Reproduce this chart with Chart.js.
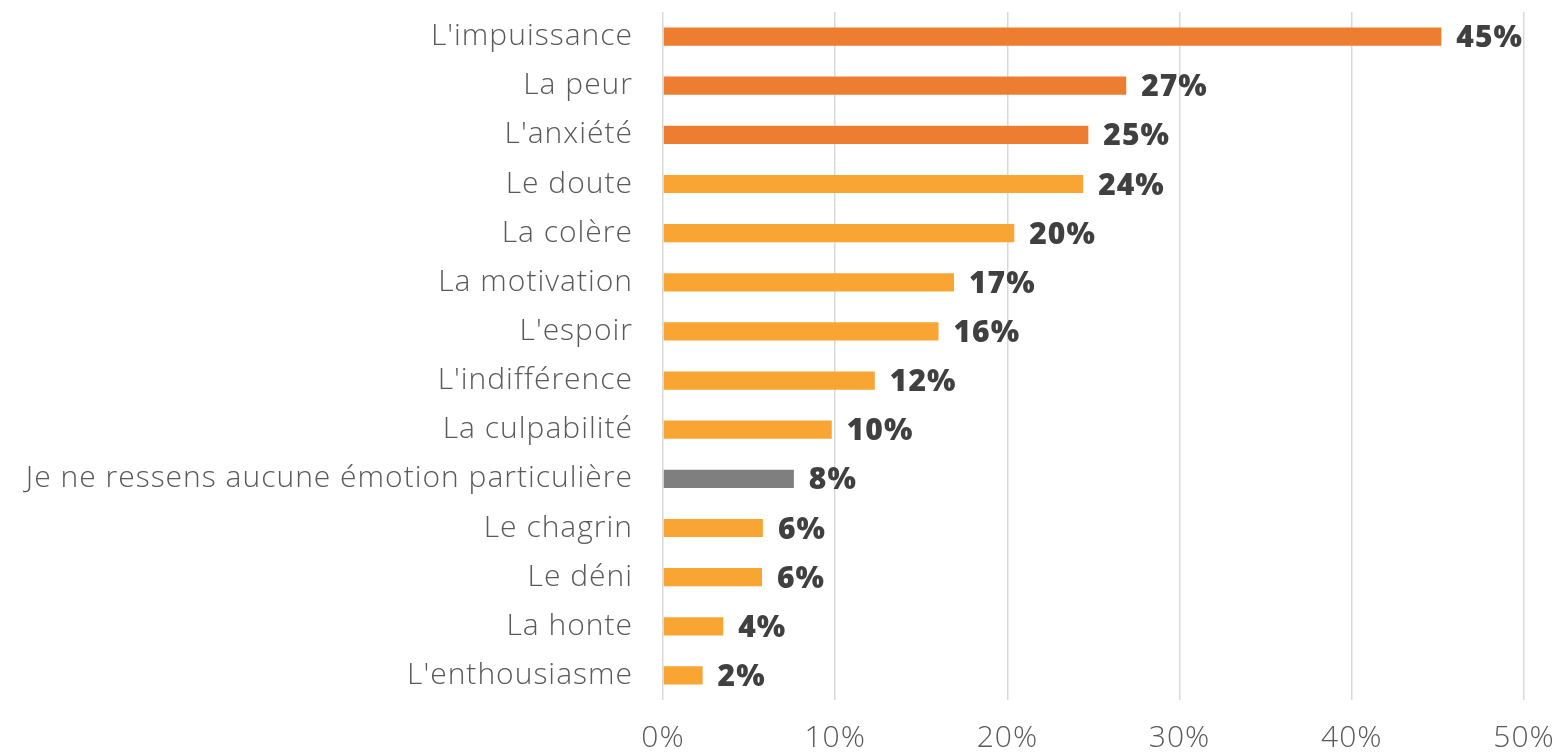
<!DOCTYPE html>
<html>
<head>
<meta charset="utf-8">
<script src="https://cdn.jsdelivr.net/npm/chart.js@4"></script>
<style>
  html, body { margin: 0; padding: 0; background: #fff; }
  #wrap { width: 1562px; height: 756px; }
</style>
</head>
<body>
<div id="wrap"><canvas id="graphe"></canvas></div>
<script>
// émotions ressenties, valeurs (en %)
const categories = ["L'impuissance", "La peur", "L'anxiété", "Le doute", "La colère", "La motivation",
  "L'espoir", "L'indifférence", "La culpabilité", "Je ne ressens aucune émotion particulière",
  "Le chagrin", "Le déni", "La honte", "L'enthousiasme"];
const valeurs = [45.2, 26.9, 24.7, 24.4, 20.4, 16.9, 16.0, 12.3, 9.8, 7.6, 5.8, 5.75, 3.5, 2.3];
const etiquettes = ["45%", "27%", "25%", "24%", "20%", "17%", "16%", "12%", "10%", "8%", "6%", "6%", "4%", "2%"];
const groupes = ["fort", "fort", "fort", "moyen", "moyen", "moyen", "moyen", "moyen", "moyen", "aucun",
  "moyen", "moyen", "moyen", "moyen"];
const ticksX = [0, 10, 20, 30, 40, 50];

const couleurs = { fort: "#ED7D31", moyen: "#F9A533", aucun: "#7F7F7F" };
const police = "'Open Sans', Lato, sans-serif";

// un peu d'espacement entre les lettres, comme dans l'original
const espacement = {
  id: 'espacement',
  beforeLayout(chart) { chart.ctx.letterSpacing = '1px'; },
  beforeDraw(chart) { chart.ctx.letterSpacing = '1px'; }
};

// petit plugin maison pour écrire les valeurs au bout des barres
const valeursPlugin = {
  id: 'valeursPlugin',
  afterDatasetsDraw(chart) {
    const ctx = chart.ctx;
    const meta = chart.getDatasetMeta(0);
    ctx.save();
    ctx.font = "800 30px " + police;
    ctx.fillStyle = "#404040";
    ctx.textBaseline = "middle";
    ctx.textAlign = "left";
    meta.data.forEach((bar, i) => {
      ctx.fillText(etiquettes[i], bar.x + 15, bar.y + 2);
    });
    ctx.restore();
  }
};

new Chart(document.getElementById("graphe"), {
  type: 'bar',
  data: {
    labels: categories,
    datasets: [{
      data: valeurs,
      backgroundColor: groupes.map(g => couleurs[g]),
      barPercentage: 0.37,
      categoryPercentage: 1.0
    }]
  },
  options: {
    indexAxis: 'y',
    responsive: true,
    maintainAspectRatio: false,
    animation: false,
    layout: { padding: { top: 12, right: 38, bottom: 0, left: 0 } },
    plugins: {
      legend: { display: false },
      tooltip: { enabled: false }
    },
    scales: {
      x: {
        min: 0,
        max: 50,
        afterBuildTicks: (axis) => { axis.ticks = ticksX.map(v => ({ value: v })); },
        afterFit: (axis) => {
          axis.height = 56;
          axis.paddingLeft = 0;
          axis.paddingRight = 0;
        },
        grid: { color: "#D9D9D9", lineWidth: 1.5, drawTicks: false },
        border: { display: false },
        ticks: {
          color: "#595959",
          padding: 20,
          maxRotation: 0,
          font: { family: police, size: 30, weight: 300 },
          callback: (v) => v + "%"
        }
      },
      y: {
        afterFit: (axis) => {
          axis.width = 663;
          axis.paddingTop = 0;
          axis.paddingBottom = 0;
        },
        grid: { display: false },
        border: { display: false },
        ticks: {
          color: "#595959",
          padding: 22,
          autoSkip: false,
          font: { family: police, size: 30, weight: 300 }
        }
      }
    }
  },
  plugins: [espacement, valeursPlugin]
});
</script>
</body>
</html>
